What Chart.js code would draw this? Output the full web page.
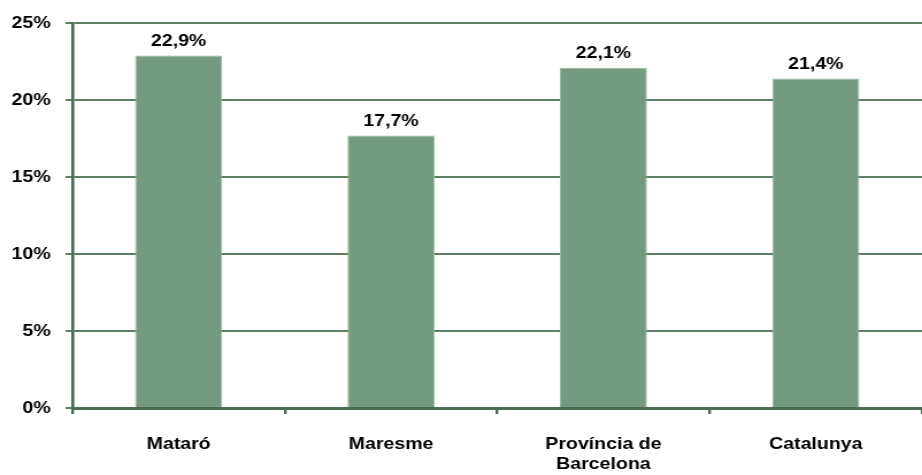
<!DOCTYPE html>
<html>
<head>
<meta charset="utf-8">
<script src="https://cdn.jsdelivr.net/npm/chart.js@4"></script>
<style>
  html, body { margin: 0; padding: 0; background: #ffffff; overflow: hidden; }
  /* the drawing is made on a narrower canvas and stretched to the page width */
  #c { display: block; width: 922px; height: 475px; }
</style>
</head>
<body>
<canvas id="c" width="802" height="475" style="width:922px;height:475px"></canvas>
<script>
// Share of population by territory (%)
const categories = ['Mataró', 'Maresme', ['Província de', 'Barcelona'], 'Catalunya'];
const values = [22.9, 17.7, 22.1, 21.4];
const yTicks = [0, 5, 10, 15, 20, 25];

const FONT = "'Liberation Sans', Arial, sans-serif";
const AXIS = '#4d6b52';
const GRID = '#5f7f65';

// Draws the value above each bar, using the bar's own geometry
const valueLabels = {
  id: 'valueLabels',
  afterDatasetsDraw(chart) {
    const ctx = chart.ctx;
    const meta = chart.getDatasetMeta(0);
    ctx.save();
    ctx.font = 'bold 17px ' + FONT;
    ctx.fillStyle = '#000000';
    ctx.textAlign = 'center';
    ctx.textBaseline = 'alphabetic';
    meta.data.forEach((bar, i) => {
      const txt = values[i].toFixed(1).replace('.', ',') + '%';
      ctx.fillText(txt, bar.x, bar.y - 10);
    });
    ctx.restore();
  }
};

new Chart(document.getElementById('c'), {
  type: 'bar',
  data: {
    labels: categories,
    datasets: [{
      data: values,
      backgroundColor: '#749a7f',
      borderColor: '#9ab7a1',
      borderWidth: 1,
      categoryPercentage: 0.41,
      barPercentage: 1.0
    }]
  },
  options: {
    responsive: false,
    animation: false,
    devicePixelRatio: 1,
    layout: { padding: { top: 20, right: 0, left: 0, bottom: 0 } },
    plugins: { legend: { display: false }, tooltip: { enabled: false } },
    scales: {
      x: {
        offset: true,
        grid: {
          offset: true,
          drawOnChartArea: false,
          drawTicks: true,
          tickLength: 6,
          color: AXIS,
          lineWidth: 2.4
        },
        border: { display: true, color: AXIS, width: 3 },
        ticks: {
          color: '#000000',
          font: { family: FONT, size: 17, weight: 'bold', lineHeight: 1.18 },
          padding: 20,
          maxRotation: 0,
          autoSkip: false
        },
        afterFit(scale) { scale.height = 67; }
      },
      y: {
        min: 0,
        max: 25,
        afterBuildTicks(scale) { scale.ticks = yTicks.map(v => ({ value: v })); },
        grid: {
          color: GRID,
          lineWidth: 2,
          drawTicks: true,
          tickLength: 6
        },
        border: { display: true, color: AXIS, width: 2.6 },
        ticks: {
          color: '#000000',
          font: { family: FONT, size: 17, weight: 'bold' },
          padding: 13,
          callback: v => v + '%'
        },
        afterFit(scale) { scale.width = 63; }
      }
    }
  },
  plugins: [valueLabels]
});
</script>
</body>
</html>
